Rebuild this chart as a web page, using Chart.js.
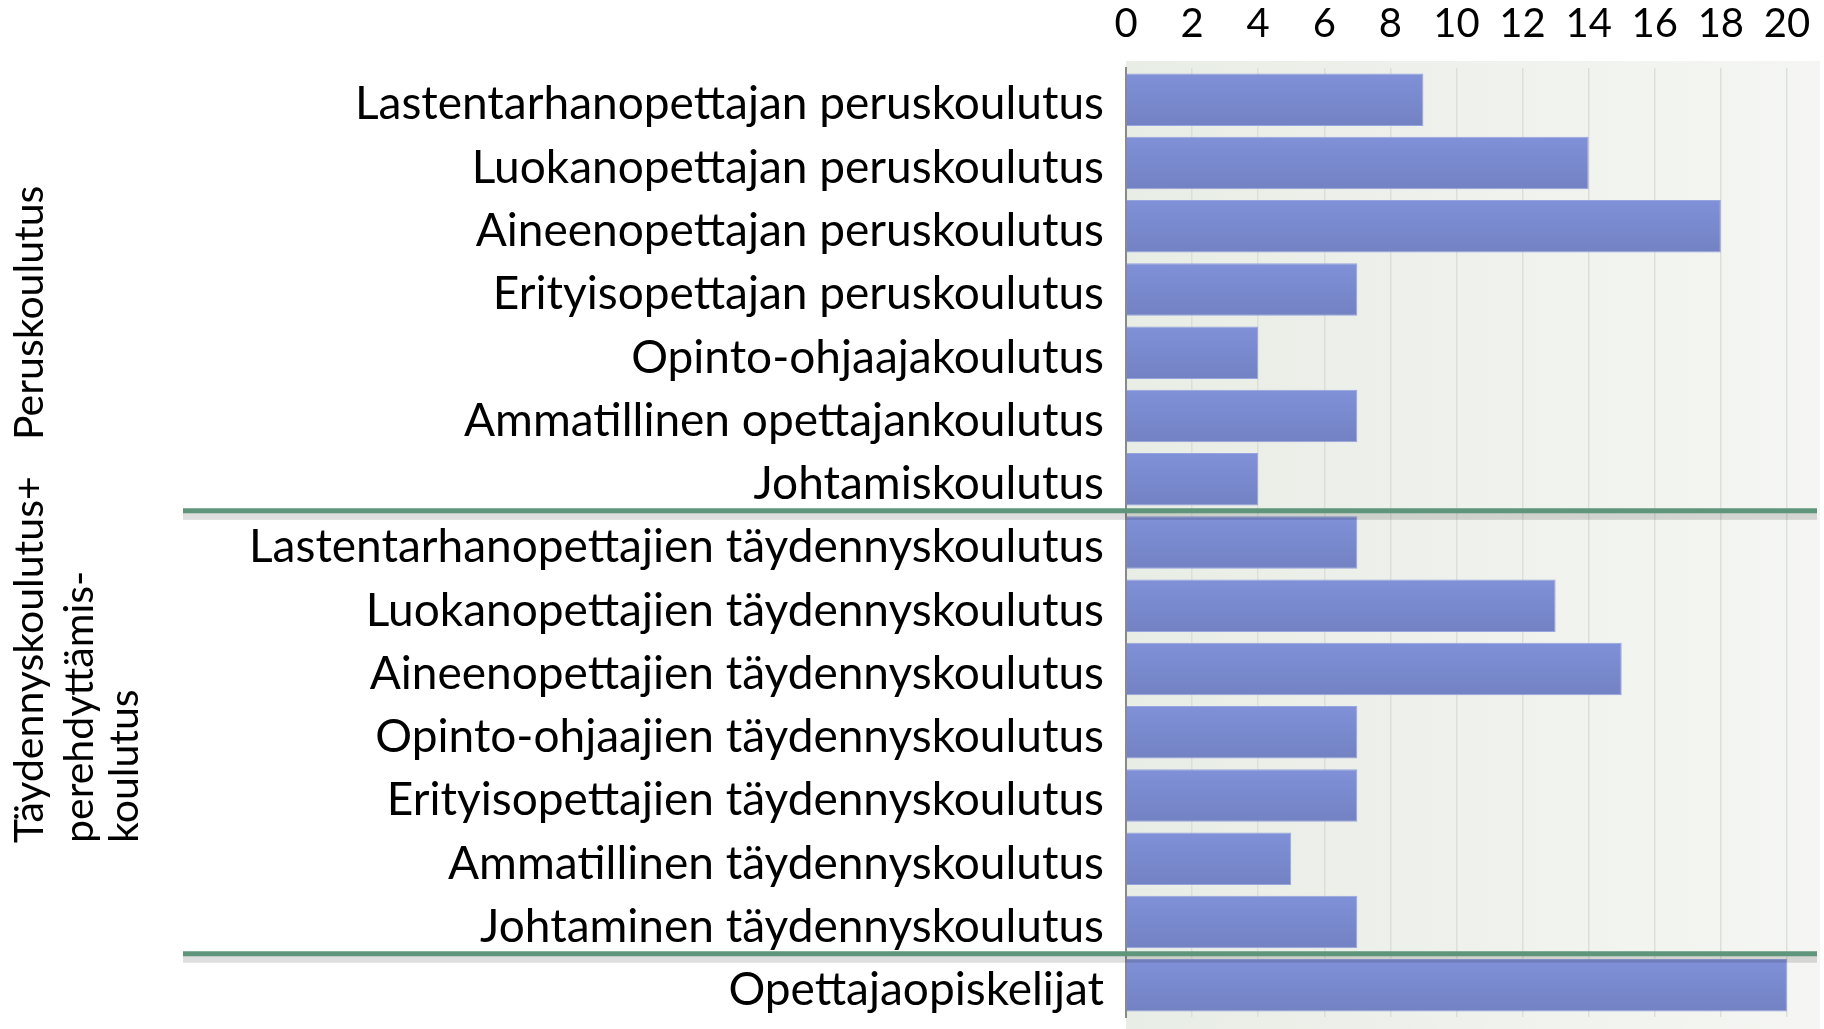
<!DOCTYPE html>
<html>
<head>
<meta charset="utf-8">
<script src="https://cdn.jsdelivr.net/npm/chart.js@4.4.1/dist/chart.umd.min.js"></script>
<style>
  html, body { margin: 0; padding: 0; background: #fff; }
</style>
</head>
<body>
<canvas id="chart" width="1824" height="1029"></canvas>
<script>
const categories = [
    "Lastentarhanopettajan peruskoulutus",
    "Luokanopettajan peruskoulutus",
    "Aineenopettajan peruskoulutus",
    "Erityisopettajan peruskoulutus",
    "Opinto-ohjaajakoulutus",
    "Ammatillinen opettajankoulutus",
    "Johtamiskoulutus",
    "Lastentarhanopettajien täydennyskoulutus",
    "Luokanopettajien täydennyskoulutus",
    "Aineenopettajien täydennyskoulutus",
    "Opinto-ohjaajien täydennyskoulutus",
    "Erityisopettajien täydennyskoulutus",
    "Ammatillinen täydennyskoulutus",
    "Johtaminen täydennyskoulutus",
    "Opettajaopiskelijat",
];
const values = [9, 14, 18, 7, 4, 7, 4, 7, 13, 15, 7, 7, 5, 7, 20];
const xTicks = [0, 2, 4, 6, 8, 10, 12, 14, 16, 18, 20];

// group labels (rotated, left side) and where the green separators go
const groups = [
    { lines: ["Peruskoulutus"], bottom: 440, x: [30] },
    { lines: ["Täydennyskoulutus+", "perehdyttämis-", "koulutus"], bottom: 843, x: [30, 80, 125] },
];
const groupBreaks = [6.5, 13.5];

const FONT = "Lato, 'Open Sans', sans-serif";
const BAR_PCT = 0.83;

// vertical gradient repeated once per category band
function barFill(context) {
    const chart = context.chart;
    const ca = chart.chartArea;
    if (!ca) return "#7a88cd";
    if (!chart._barPattern) {
        const c = document.createElement("canvas");
        c.width = 4;
        c.height = 100;
        const cx = c.getContext("2d");
        const gap = (100 * (1 - BAR_PCT)) / 2;
        const g = cx.createLinearGradient(0, gap, 0, 100 - gap);
        g.addColorStop(0, "#8191d9");
        g.addColorStop(1, "#7282c3");
        cx.fillStyle = g;
        cx.fillRect(0, 0, 4, 100);
        chart._barPattern = chart.ctx.createPattern(c, "repeat");
    }
    const band = (ca.bottom - ca.top) / categories.length;
    chart._barPattern.setTransform(new DOMMatrix().translate(0, ca.top).scale(1, band / 100));
    return chart._barPattern;
}

const backgroundPlugin = {
    id: "plotBackground",
    beforeDraw(chart) {
        const { ctx, chartArea } = chart;
        const g = ctx.createLinearGradient(chartArea.left, 0, chartArea.right, 0);
        g.addColorStop(0, "#e8ede5");
        g.addColorStop(1, "#f5f6f3");
        ctx.save();
        ctx.fillStyle = g;
        ctx.fillRect(chartArea.left, chartArea.top - 7, chartArea.right - chartArea.left, chart.height - chartArea.top + 7);
        ctx.restore();
    },
};

const groupPlugin = {
    id: "groups",
    afterDraw(chart) {
        const { ctx } = chart;
        const y = chart.scales.y;
        ctx.save();
        groupBreaks.forEach((b) => {
            const py = (y.getPixelForValue(Math.floor(b)) + y.getPixelForValue(Math.ceil(b))) / 2;
            ctx.fillStyle = "rgba(0,0,0,0.13)";
            ctx.fillRect(183, py + 2, 1634, 7);
            ctx.strokeStyle = "#5f957a";
            ctx.lineWidth = 5;
            ctx.beginPath();
            ctx.moveTo(183, py);
            ctx.lineTo(1817, py);
            ctx.stroke();
        });
        ctx.fillStyle = "#000";
        ctx.font = "41px " + FONT;
        ctx.textAlign = "left";
        ctx.textBaseline = "middle";
        groups.forEach((grp) => {
            grp.lines.forEach((line, i) => {
                ctx.save();
                ctx.translate(grp.x[i], grp.bottom);
                ctx.rotate(-Math.PI / 2);
                ctx.fillText(line, 0, 0);
                ctx.restore();
            });
        });
        ctx.restore();
    },
};

new Chart(document.getElementById("chart"), {
    type: "bar",
    data: {
        labels: categories,
        datasets: [
            {
                data: values,
                backgroundColor: barFill,
                borderColor: "#98a4e0",
                borderWidth: 1,
                barPercentage: BAR_PCT,
                categoryPercentage: 1,
            },
        ],
    },
    options: {
        indexAxis: "y",
        responsive: false,
        animation: false,
        layout: { padding: { left: 0, right: 4, top: 0, bottom: 12 } },
        plugins: {
            legend: { display: false },
            tooltip: { enabled: false },
        },
        scales: {
            x: {
                position: "top",
                min: 0,
                max: 21,
                afterBuildTicks: (s) => {
                    s.ticks = xTicks.map((v) => ({ value: v }));
                },
                afterFit: (s) => {
                    s.height = 68;
                    s.paddingLeft = 0;
                    s.paddingRight = 0;
                },
                ticks: {
                    color: "#000",
                    font: { family: FONT, size: 40 },
                    padding: 20,
                    maxRotation: 0,
                },
                grid: { color: "#dcdfd9", lineWidth: 1.5, drawTicks: false },
                border: { display: false },
            },
            y: {
                afterFit: (s) => {
                    s.width = 1126;
                    s.paddingTop = 0;
                    s.paddingBottom = 0;
                },
                ticks: {
                    color: "#000",
                    font: { family: FONT, size: 46 },
                    padding: 22,
                    labelOffset: 5,
                },
                grid: { display: false, drawTicks: false },
                border: { display: true, color: "#8a8a8a", width: 2 },
            },
        },
    },
    plugins: [backgroundPlugin, groupPlugin],
});
</script>
</body>
</html>
